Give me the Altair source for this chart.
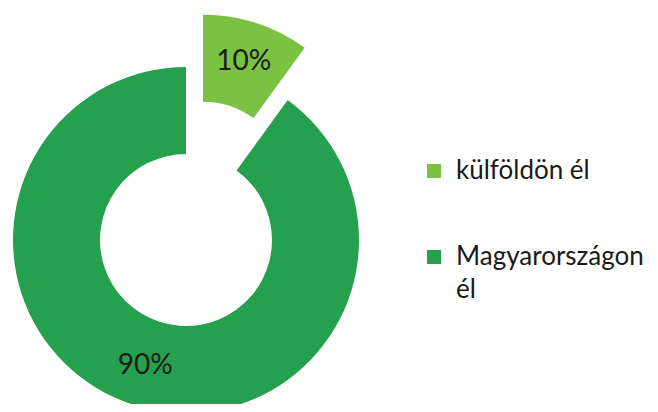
import altair as alt
import pandas as pd

categories = ["külföldön él", "Magyarországon él"]
values = [10, 90]
labels = ["10%", "90%"]
order = [1, 2]

colors = ["#7cc242", "#25a04e"]

df = pd.DataFrame({"category": categories, "value": values, "label": labels, "order": order})

CX, CY = 178, 232
R_OUT, R_IN = 173, 86
EXPLODE = 55
R_TEXT = 132

base = alt.Chart(df).transform_joinaggregate(
    total="sum(value)"
).transform_window(
    cum="sum(value)", sort=[alt.SortField("order")]
).transform_calculate(
    mid="(datum.cum - datum.value/2) / datum.total * 2 * PI",
    ex=f"datum.category == 'külföldön él' ? {EXPLODE} : 0",
).transform_calculate(
    px=f"{CX} + datum.ex * sin(datum.mid)",
    py=f"{CY} - datum.ex * cos(datum.mid)",
).transform_calculate(
    tx=f"datum.px + {R_TEXT} * sin(datum.mid)",
    ty=f"datum.py - {R_TEXT} * cos(datum.mid)",
)

arcs = base.mark_arc(outerRadius=R_OUT, innerRadius=R_IN).encode(
    theta=alt.Theta("value:Q", stack=True),
    order=alt.Order("order:Q"),
    x=alt.X("px:Q", scale=None),
    y=alt.Y("py:Q", scale=None),
    color=alt.Color(
        "category:N",
        scale=alt.Scale(domain=categories, range=colors),
        legend=alt.Legend(
            title=None,
            orient="none",
            legendX=413,
            legendY=150,
            symbolType="square",
            symbolSize=196,
            symbolStrokeWidth=0,
            labelFont="Lato",
            labelFontSize=26,
            labelColor="#1a1a1a",
            labelOffset=9,
            labelBaseline="middle",
            labelLimit=300,
            rowPadding=60,
            labelExpr="datum.label == 'Magyarországon él' ? ['Magyarországon', 'él'] : datum.label",
        ),
    ),
)

texts = base.mark_text(font="Lato", fontSize=28, color="#1a1a1a", baseline="middle", align="center").encode(
    x=alt.X("tx:Q", scale=None),
    y=alt.Y("ty:Q", scale=None),
    text="label:N",
)

chart = alt.layer(arcs, texts).properties(
    width=642, height=396,
    autosize=alt.AutoSizeParams(type="fit", contains="padding"),
    padding=0,
).configure(
    style={"guide-label": {"lineHeight": 33}}
).configure_view(stroke=None)

chart.save("out.html", embed_options={"renderer": "svg", "actions": False})
